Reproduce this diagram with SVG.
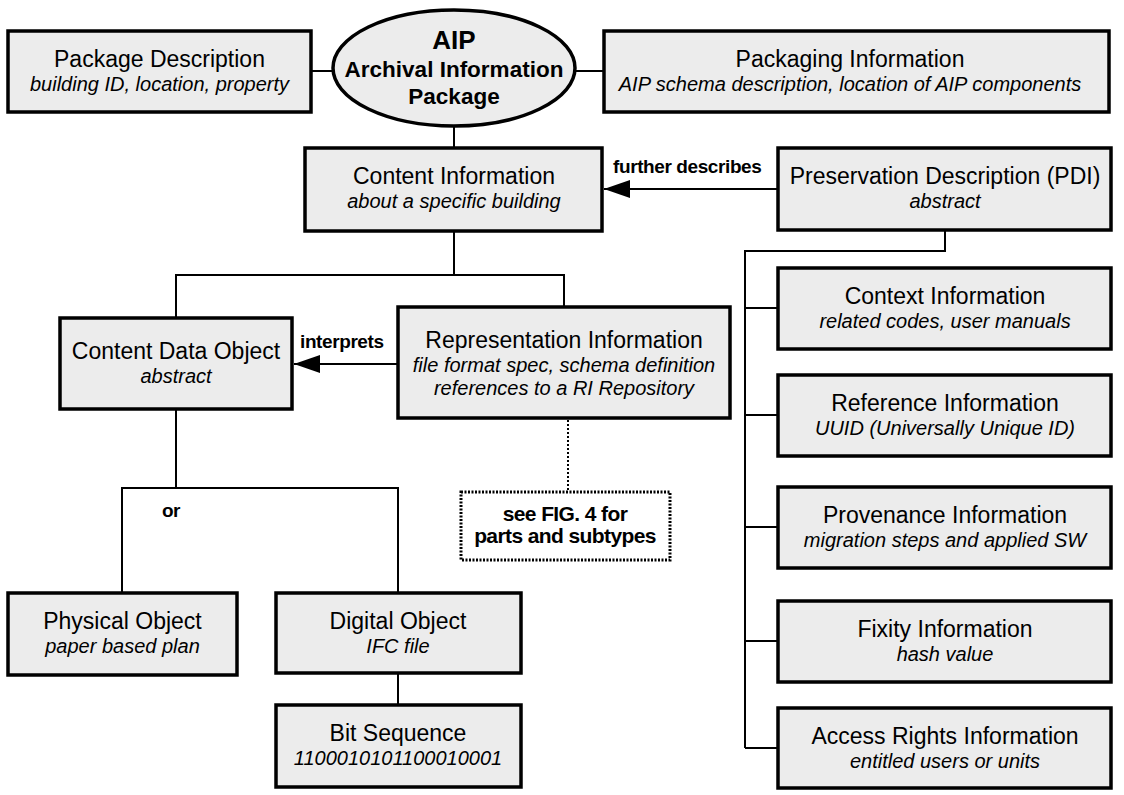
<svg xmlns="http://www.w3.org/2000/svg" width="1124" height="795" viewBox="0 0 1124 795">
<defs>
<style>
.box{fill:#ececec;stroke:#000;stroke-width:3.5}
.t{font-family:"Liberation Sans",Arial,sans-serif;font-size:23px;text-anchor:middle;fill:#000}
.s{font-family:"Liberation Sans",Arial,sans-serif;font-size:20px;font-style:italic;text-anchor:middle;fill:#000}
.b{font-family:"Liberation Sans",Arial,sans-serif;font-weight:bold;text-anchor:middle;fill:#000}
.lbl{font-family:"Liberation Sans",Arial,sans-serif;font-weight:bold;font-size:19px;fill:#000;letter-spacing:-0.4px}
.c{fill:none;stroke:#000;stroke-width:2}
.d{fill:none;stroke:#000;stroke-width:2;stroke-dasharray:2 2}
</style>
<marker id="ah" markerWidth="26" markerHeight="18" refX="26" refY="9" orient="auto" markerUnits="userSpaceOnUse">
<path d="M0,0 L26,9 L0,18 Z" fill="#000"/>
</marker>
</defs>
<rect width="1124" height="795" fill="#fff"/>
<g id="connectors">
<line class="c" x1="311" y1="71" x2="334" y2="71"/>
<line class="c" x1="575" y1="71" x2="604" y2="71"/>
<line class="c" x1="454" y1="126" x2="454" y2="148"/>
<line class="c" x1="778" y1="189" x2="604" y2="189" marker-end="url(#ah)"/>
<text class="lbl" x="613" y="173">further describes</text>
<path class="c" d="M945,230 V251 H745 V748"/>
<line class="c" x1="745" y1="308" x2="778" y2="308"/>
<line class="c" x1="745" y1="415" x2="778" y2="415"/>
<line class="c" x1="745" y1="527" x2="778" y2="527"/>
<line class="c" x1="745" y1="641" x2="778" y2="641"/>
<line class="c" x1="745" y1="748" x2="778" y2="748"/>
<path class="c" d="M454,231 V275 M176,318 V275 H564 V307"/>
<line class="c" x1="398" y1="364" x2="294" y2="364" marker-end="url(#ah)"/>
<text class="lbl" x="300" y="348">interprets</text>
<line class="d" x1="568" y1="420" x2="568" y2="492"/>
<path class="c" d="M176,409 V488 M122,593 V488 H398 V593"/>
<text class="lbl" x="171" y="517" text-anchor="middle">or</text>
<line class="c" x1="398" y1="673" x2="398" y2="705"/>
</g>
<g id="aip">
<ellipse cx="454" cy="68" rx="121" ry="58" class="box"/>
<text class="b" x="454" y="49" font-size="26">AIP</text>
<text class="b" x="454" y="77" font-size="22.5">Archival Information</text>
<text class="b" x="454" y="104" font-size="22.5">Package</text>
</g>
<g id="package-description">
<rect class="box" x="8" y="31" width="303" height="81"/>
<text class="t" x="159.5" y="67">Package Description</text>
<text class="s" x="159.5" y="91">building ID, location, property</text>
</g>
<g id="packaging-information">
<rect class="box" x="604" y="31" width="505" height="81"/>
<text class="t" x="850" y="67">Packaging Information</text>
<text class="s" x="850" y="91">AIP schema description, location of AIP components</text>
</g>
<g id="content-information">
<rect class="box" x="305" y="148" width="297" height="83"/>
<text class="t" x="454" y="184">Content Information</text>
<text class="s" x="454" y="208">about a specific building</text>
</g>
<g id="pdi">
<rect class="box" x="778" y="148" width="333" height="82"/>
<text class="t" x="945" y="184">Preservation Description (PDI)</text>
<text class="s" x="945" y="208">abstract</text>
</g>
<g id="context-information">
<rect class="box" x="778" y="268" width="333" height="81"/>
<text class="t" x="945" y="304">Context Information</text>
<text class="s" x="945" y="328">related codes, user manuals</text>
</g>
<g id="reference-information">
<rect class="box" x="778" y="375" width="333" height="81"/>
<text class="t" x="945" y="411">Reference Information</text>
<text class="s" x="945" y="435">UUID (Universally Unique ID)</text>
</g>
<g id="provenance-information">
<rect class="box" x="778" y="487" width="333" height="81"/>
<text class="t" x="945" y="523">Provenance Information</text>
<text class="s" x="945" y="547">migration steps and applied SW</text>
</g>
<g id="fixity-information">
<rect class="box" x="778" y="601" width="333" height="81"/>
<text class="t" x="945" y="637">Fixity Information</text>
<text class="s" x="945" y="661">hash value</text>
</g>
<g id="access-rights-information">
<rect class="box" x="778" y="708" width="333" height="80"/>
<text class="t" x="945" y="744">Access Rights Information</text>
<text class="s" x="945" y="768">entitled users or units</text>
</g>
<g id="content-data-object">
<rect class="box" x="60" y="318" width="232" height="91"/>
<text class="t" x="176" y="359">Content Data Object</text>
<text class="s" x="176" y="383">abstract</text>
</g>
<g id="representation-information">
<rect class="box" x="398" y="307" width="332" height="111"/>
<text class="t" x="564" y="348">Representation Information</text>
<text class="s" x="564" y="372">file format spec, schema definition</text>
<text class="s" x="564" y="395">references to a RI Repository</text>
</g>
<g id="see-fig4">
<rect x="461" y="492" width="209" height="68" fill="#fff" stroke="#000" stroke-width="3" stroke-dasharray="2 1.5"/>
<text class="b" x="565" y="521" font-size="21" letter-spacing="-0.6">see FIG. 4 for</text>
<text class="b" x="565" y="543" font-size="21" letter-spacing="-0.6">parts and subtypes</text>
</g>
<g id="physical-object">
<rect class="box" x="8" y="593" width="229" height="82"/>
<text class="t" x="122.5" y="629">Physical Object</text>
<text class="s" x="122.5" y="653">paper based plan</text>
</g>
<g id="digital-object">
<rect class="box" x="276" y="593" width="245" height="80"/>
<text class="t" x="398" y="629">Digital Object</text>
<text class="s" x="398" y="653">IFC file</text>
</g>
<g id="bit-sequence">
<rect class="box" x="276" y="705" width="245" height="82"/>
<text class="t" x="398" y="741">Bit Sequence</text>
<text class="s" x="398" y="765">1100010101100010001</text>
</g>
</svg>
